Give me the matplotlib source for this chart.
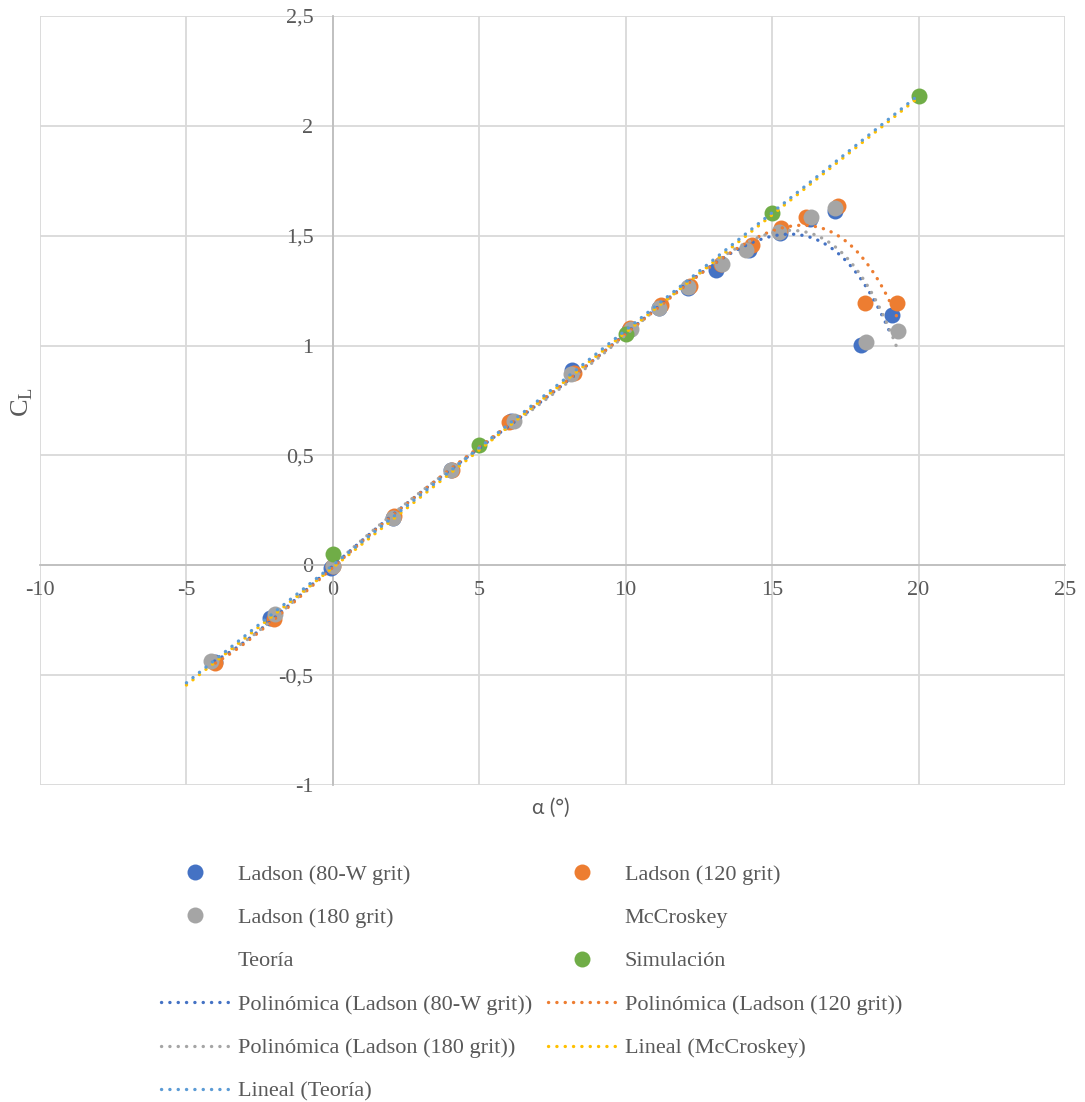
import numpy as np
import matplotlib
matplotlib.use("Agg")
import matplotlib.pyplot as plt
from matplotlib.lines import Line2D
from matplotlib.ticker import FixedLocator, FixedFormatter

plt.rcParams['font.family'] = ['Liberation Serif', 'DejaVu Serif']
plt.rcParams['mathtext.fontset'] = 'custom'
plt.rcParams['mathtext.rm'] = 'Liberation Serif'

# Ladson wind-tunnel data (NACA 0012), three grit roughness levels
alpha_80w = [-4.04, -2.14, -0.05, 2.05, 4.04, 6.09, 8.18, 10.12, 11.13, 12.12,
             13.08, 14.22, 15.26, 16.30, 17.13, 18.02, 19.08]
cl_80w = [-0.442, -0.239, -0.013, 0.213, 0.432, 0.655, 0.887, 1.071, 1.169, 1.261,
          1.346, 1.437, 1.513, 1.574, 1.612, 1.001, 1.140]

alpha_120 = [-4.01, -2.00, 0.00, 2.10, 4.08, 6.03, 8.22, 10.16, 11.20, 12.18,
             13.27, 14.32, 15.31, 16.16, 17.24, 18.18, 19.25]
cl_120 = [-0.447, -0.243, -0.003, 0.223, 0.434, 0.654, 0.874, 1.079, 1.183, 1.271,
          1.373, 1.459, 1.534, 1.586, 1.636, 1.193, 1.193]

alpha_180 = [-4.15, -1.96, 0.00, 2.05, 4.04, 6.17, 8.12, 10.18, 11.13, 12.14,
             13.28, 14.12, 15.23, 16.31, 17.13, 18.20, 19.30]
cl_180 = [-0.437, -0.221, -0.005, 0.216, 0.434, 0.656, 0.869, 1.077, 1.171, 1.266,
          1.370, 1.435, 1.518, 1.584, 1.625, 1.014, 1.066]

# Reference lift curves (drawn only through their linear trend)
alpha_mccroskey = [-5, 0, 5, 10, 15, 20]
cl_mccroskey = [-0.545, -0.010, 0.525, 1.060, 1.595, 2.130]

alpha_teoria = [-5, 0, 5, 10, 15, 20]
cl_teoria = [-0.535, 0.000, 0.535, 1.070, 1.605, 2.140]

# CFD results
alpha_sim = [0, 5, 10, 15, 20]
cl_sim = [0.052, 0.548, 1.052, 1.603, 2.137]

x_ticks = [-10, -5, 0, 5, 10, 15, 20, 25]
x_tick_labels = ['-10', '-5', '0', '5', '10', '15', '20', '25']
y_ticks = [-1, -0.5, 0, 0.5, 1, 1.5, 2, 2.5]
y_tick_labels = ['-1', '-0,5', '0', '0,5', '1', '1,5', '2', '2,5']

C_BLUE = '#4472C4'
C_ORANGE = '#ED7D31'
C_GRAY = '#A5A5A5'
C_YELLOW = '#FFC000'
C_LBLUE = '#5B9BD5'
C_GREEN = '#70AD47'
TXT = '#595959'

W, H = 1085, 1102
fig = plt.figure(figsize=(W / 100, H / 100), dpi=100)
ax = fig.add_axes([40 / W, 1 - 785 / H, 1025 / W, 769 / H])
ax.set_xlim(-10, 25)
ax.set_ylim(-1, 2.5)

ms = 11.5
sc_kw = dict(linestyle='none', marker='o', markersize=ms, markeredgewidth=0, zorder=3)
ax.plot(alpha_80w, cl_80w, color=C_BLUE, **sc_kw)
ax.plot(alpha_120, cl_120, color=C_ORANGE, **sc_kw)
ax.plot(alpha_180, cl_180, color=C_GRAY, **sc_kw)
ax.plot(alpha_sim, cl_sim, color=C_GREEN, **sc_kw)

LW = 2.4
dashes = (0.05, 2.45)
dot_kw = dict(linewidth=LW, dash_capstyle='round', zorder=4)


def poly_trend(x, y, order):
    x = np.asarray(x)
    c = np.polyfit(x, np.asarray(y), order)
    xs = np.linspace(x.min(), x.max(), 400)
    return xs, np.polyval(c, xs)


order = 6
for xs_, ys_, col in [(alpha_80w, cl_80w, C_BLUE), (alpha_120, cl_120, C_ORANGE),
                      (alpha_180, cl_180, C_GRAY)]:
    xt, yt = poly_trend(xs_, ys_, order)
    ax.plot(xt, yt, color=col, dashes=dashes, **dot_kw)

for xs_, ys_, col in [(alpha_mccroskey, cl_mccroskey, C_YELLOW),
                      (alpha_teoria, cl_teoria, C_LBLUE)]:
    xt, yt = poly_trend(xs_, ys_, 1)
    ax.plot(xt, yt, color=col, dashes=dashes, **dot_kw)

# grid and axes crossing at the origin
ax.xaxis.set_major_locator(FixedLocator(x_ticks))
ax.xaxis.set_major_formatter(FixedFormatter(x_tick_labels))
ax.yaxis.set_major_locator(FixedLocator(y_ticks))
ax.yaxis.set_major_formatter(FixedFormatter(y_tick_labels))
ax.grid(True, color='#D9D9D9', linewidth=1.3, zorder=0)
ax.set_axisbelow(True)
for s in ['top', 'right']:
    ax.spines[s].set_visible(False)
ax.spines['left'].set_position(('data', 0))
ax.spines['bottom'].set_position(('data', 0))
for s in ['left', 'bottom']:
    ax.spines[s].set_color('#BFBFBF')
    ax.spines[s].set_linewidth(1.3)
    ax.spines[s].set_zorder(1)
ax.tick_params(length=0, labelsize=16, labelcolor=TXT)
ax.tick_params(axis='y', pad=14)
ax.tick_params(axis='x', pad=11)

ax.text(7.45, -1.105, 'α (°)', ha='center', va='center', fontsize=15, color=TXT,
        family=['Lato', 'DejaVu Sans'])
fig.text(22 / W, 1 - 402 / H, r'C$_\mathrm{L}$', rotation=90, ha='center',
         va='center', fontsize=19, color=TXT)


def pt(color):
    return Line2D([], [], linestyle='none', marker='o', markersize=ms,
                  markeredgewidth=0, color=color)


def dl(color):
    return Line2D([], [], color=color, linewidth=LW, dashes=dashes,
                  dash_capstyle='round')


def blank():
    return Line2D([], [], linestyle='none')


leg_kw = dict(loc='upper left', frameon=False, fontsize=16, labelcolor=TXT,
              handlelength=3.05, handletextpad=0.4, labelspacing=1.03,
              borderaxespad=0, borderpad=0)

left_handles = [pt(C_BLUE), pt(C_GRAY), blank(), dl(C_BLUE), dl(C_GRAY), dl(C_LBLUE)]
left_labels = ['Ladson (80-W grit)', 'Ladson (180 grit)', 'Teoría',
               'Polinómica (Ladson (80-W grit))', 'Polinómica (Ladson (180 grit))',
               'Lineal (Teoría)']
right_handles = [pt(C_ORANGE), blank(), pt(C_GREEN), dl(C_ORANGE), dl(C_YELLOW)]
right_labels = ['Ladson (120 grit)', 'McCroskey', 'Simulación',
                'Polinómica (Ladson (120 grit))', 'Lineal (McCroskey)']

leg1 = fig.legend(left_handles, left_labels,
                  bbox_to_anchor=(161 / W, 1 - 864 / H), **leg_kw)
leg2 = fig.legend(right_handles, right_labels,
                  bbox_to_anchor=(548 / W, 1 - 864 / H), **leg_kw)

fig.savefig('out.png', dpi=100)
